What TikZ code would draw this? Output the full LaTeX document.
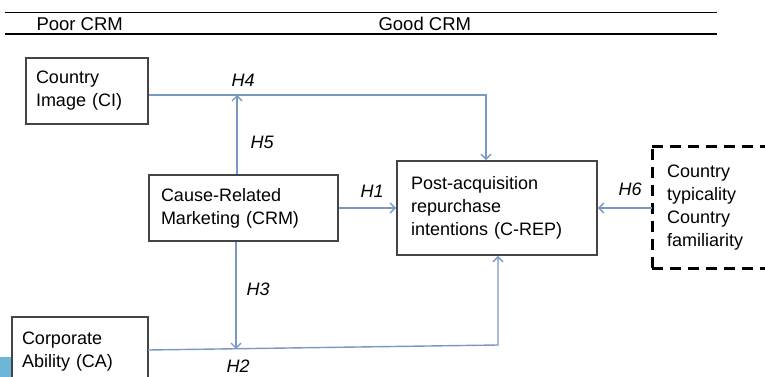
\documentclass[tikz,border=0pt]{standalone}
\usepackage{fontspec}
\setmainfont{Liberation Sans}
\usetikzlibrary{arrows.meta}
\definecolor{arrowblue}{RGB}{122,152,196}
\definecolor{boxgray}{RGB}{68,68,68}
\definecolor{tabblue}{RGB}{108,182,216}
\tikzset{
  box/.style={draw=boxgray, line width=1.6pt, rectangle, fill=white, align=left,
    inner ysep=0pt, font=\fontsize{18}{23}\selectfont},
  dbox/.style={rectangle, align=left, inner ysep=0pt, font=\fontsize{18}{23}\selectfont},
  dline/.style={draw=black, line width=3pt, dash pattern=on 11pt off 7pt},
  arr/.style={draw=arrowblue, line width=1.4pt, -{Straight Barb[length=5pt,width=10pt]}},
  hlab/.style={anchor=base west, font=\fontsize{18}{23}\selectfont\itshape},
  head/.style={anchor=base west, font=\fontsize{18.5}{22}\selectfont},
  rule/.style={draw=black, line width=1.2pt}
}
\begin{document}
\begin{tikzpicture}[x=1pt,y=-1pt]
\useasboundingbox (0,0) rectangle (765,377);
% header
\draw[rule] (5,12.5) -- (717,12.5);
\draw[rule] (5,34) -- (717,34);
\node[head] (poor) at (33,30.5) {Poor CRM};
\node[head] (good) at (375,30.5) {Good CRM};
% blue tab
\fill[tabblue] (0,357) rectangle (12,377);
% boxes
\node[box, text width=102pt, inner xsep=10pt, minimum height=66pt] (CI) at (87,91) {Country\\Image (CI)};
\node[box, text width=165pt, inner xsep=12pt, minimum height=66pt] (CRM) at (243.5,208) {Cause-Related\\Marketing (CRM)};
\node[box, text width=172pt, inner xsep=14pt, minimum height=94pt] (CREP) at (497,208) {Post-acquisition\\repurchase\\intentions (C-REP)};
\begin{scope}
\clip (0,0) rectangle (765,377);
\node[box, text width=116pt, inner xsep=10pt, minimum height=69pt] (CA) at (80,351.5) {Corporate\\Ability (CA)};
\end{scope}
\node[dbox, text width=80pt, inner xsep=15pt, minimum height=121pt, anchor=west] (MOD) at (652,207.5) {Country\\typicality\\Country\\familiarity};
\coordinate (dashR) at (765,0);
\draw[dline] (MOD.south west) -- (MOD.north west);
\draw[dline] (MOD.north west) -- (dashR |- MOD.north);
\draw[dline] (MOD.south west) -- (dashR |- MOD.south);
% connectors
\coordinate (h4c) at (486,95);
\coordinate (h5t) at (237,95);
\coordinate (h3b) at (236,349);
\coordinate (h2s) at (148,350);
\coordinate (h2c) at (498,345);
\draw[arr] (CI.east |- h4c) -- (h4c) -- (h4c |- CREP.north);
\draw[arr] (h5t |- CRM.north) -- (h5t);
\draw[arr] (CRM.east) -- (CREP.west);
\draw[arr] (MOD.west |- CREP.east) -- (CREP.east);
\draw[arr] (h3b |- CRM.south) -- (h3b);
\draw[arr] (h2s) -- (h2c) -- (h2c |- CREP.south);
% labels
\node[hlab] (H4) at (228,87) {H4};
\node[hlab] (H5) at (247,148) {H5};
\node[hlab] (H1) at (357,197) {H1};
\node[hlab] (H6) at (615,195) {H6};
\node[hlab] (H3) at (243,295) {H3};
\node[hlab] (H2) at (223,372) {H2};
\end{tikzpicture}
\end{document}
